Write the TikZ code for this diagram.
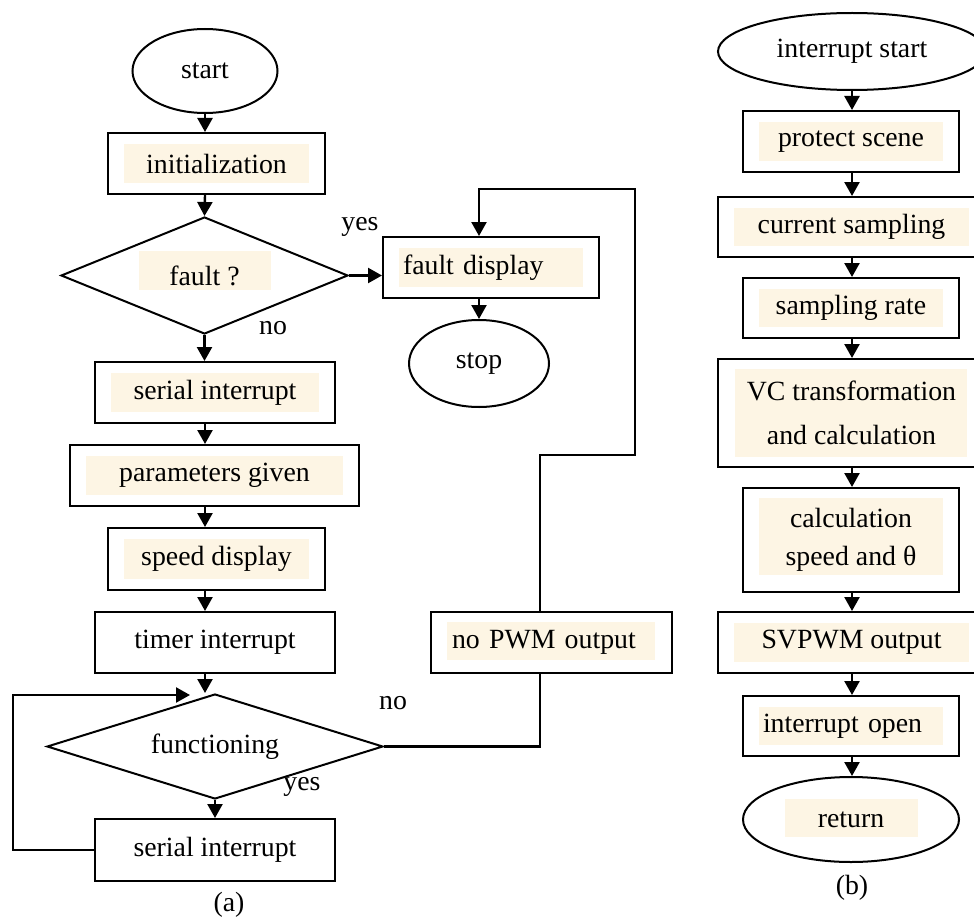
\documentclass[tikz,border=0pt]{standalone}
\usepackage{fontspec}
\setmainfont{Liberation Serif}
\usepackage{tikz}
\usetikzlibrary{positioning,arrows.meta,shapes.geometric,calc}

\definecolor{cream}{RGB}{253,245,228}

\begin{document}
\begin{tikzpicture}[
  x=0.5pt, y=-0.5pt,
  font=\fontsize{13.9}{19}\selectfont, >={Triangle[length=7pt,width=7.5pt]},
  hl/.style 2 args={path picture={\fill[cream] ([shift={(#1)}]path picture bounding box.north west)
                     rectangle ([shift={(#2)}]path picture bounding box.south east);}},
  box/.style={draw, line width=1pt, fill=white, align=center, inner sep=0pt,
              minimum height=30.5pt},
  hbox/.style={box, hl={8pt,-5.5pt}{-8pt,5.5pt}},
  term/.style={draw, line width=1pt, ellipse, inner sep=0pt},
  dec/.style={draw, line width=1pt, diamond, shape aspect=3, inner sep=0pt},
  arr/.style={->, line width=1.2pt},
  lin/.style={line width=1.2pt},
  lbl/.style={inner sep=0pt},
]
\clip (0,0) rectangle (974,920);

% (a) main loop
\node[term, minimum width=72.5pt, minimum height=42pt] (start) at (205,71) {start};
\node[hbox, minimum width=108.5pt] (init) at (216.5,163.5) {initialization};
\node[dec, minimum width=143.5pt, minimum height=58.5pt,
      hl={39pt,-17pt}{-38.5pt,22pt}] (fault) at (204.5,275.5) {fault ?};
\node[hbox, minimum width=108pt, text width=88pt, inner xsep=10pt, align=left] (fdisp) at (491,267.5) {fault display};
\node[term, minimum width=70pt, minimum height=43.5pt] (stop) at (479,363.5) {stop};
\node[hbox, minimum width=120pt] (serial) at (215,392.5) {serial interrupt};
\node[hbox, minimum width=144.5pt] (param) at (214.5,475.5) {parameters given};
\node[hbox, minimum width=108.5pt, minimum height=31pt] (speed) at (216.5,559) {speed display};
\node[box, minimum width=120pt] (timer) at (215,642.5) {timer interrupt};
\node[dec, minimum width=168pt, minimum height=52.5pt] (func) at (215,746.5) {functioning};
\node[box, minimum width=120pt, minimum height=31pt] (serial2) at (215,850) {serial interrupt};
\node[hbox, minimum width=120.5pt, text width=99.5pt, inner xsep=10.5pt, align=left,
      hl={8pt,-5pt}{-8.5pt,6.5pt}] (nopwm) at (551.5,642.5) {no PWM output};

\node[lbl] (yes1) at (360,227) {yes};
\node[lbl] (no1)  at (273,328) {no};
\node[lbl] (no2)  at (393,703) {no};
\node[lbl] (yes2) at (302,787) {yes};
\node[lbl] (capa) at (229,905) {(a)};

\coordinate (j1) at (540,455);
\coordinate (j2) at (635,189);
\coordinate (lp) at (13,695);
\coordinate (lpend) at (190,695);

\draw[arr] (start.south) -- (start |- init.north);
\draw[arr] (init.south -| start) -- (fault.north);
\draw[arr] (fault.east) -- (fault.east -| fdisp.west);
\draw[arr] (fdisp.south -| stop) -- (stop.north);
\draw[arr] (fault.south) -- (fault.south |- serial.north);
\draw[arr] (serial.south -| start) -- (start |- param.north);
\draw[arr] (param.south -| start) -- (start |- speed.north);
\draw[arr] (speed.south -| start) -- (start |- timer.north);
\draw[arr] (timer.south -| start) -- (start |- func.north);
\draw[arr] (func.south) -- (serial2.north);
\draw[arr] (serial2.west) -| (lp) -- (lpend);
\draw[lin] (func.east) -| (j1 |- nopwm.south);
\draw[arr] (nopwm.north -| j1) -- (j1) -| (j2) -| (stop |- fdisp.north);

% (b) interrupt routine
\node[term, minimum width=134pt, minimum height=38.5pt] (istart) at (852,51.5) {interrupt start};
\node[hbox, minimum width=108pt] (protect) at (851,141.5) {protect scene};
\node[hbox, minimum width=133.5pt, minimum height=30pt] (cursamp) at (851.5,227) {current sampling};
\node[hbox, minimum width=108pt, minimum height=30pt] (samprate) at (851,308) {sampling rate};
\node[hbox, minimum width=133.5pt, minimum height=54pt,
      hl={8.5pt,-5pt}{-9pt,5pt}] (vc) at (851.5,413) {VC transformation\\[3pt] and calculation};
\node[hbox, minimum width=108pt, minimum height=52pt,
      hl={8pt,-5pt}{-8pt,8.5pt}] (calc) at (851,540) {calculation\\ speed and θ};
\node[hbox, minimum width=133.5pt] (svpwm) at (851.5,642.5) {SVPWM output};
\node[hbox, minimum width=108pt, minimum height=30pt, text width=88pt, inner xsep=10pt,
      align=left] (iopen) at (851,726) {interrupt open};
\node[term, minimum width=108pt, minimum height=42.5pt,
      hl={21pt,-11pt}{-20.5pt,12.5pt}] (ret) at (851,819.5) {return};
\node[lbl] (capb) at (852,888) {(b)};

\draw[arr] (istart.south) -- (istart.south |- protect.north);
\draw[arr] (protect.south -| istart) -- (istart |- cursamp.north);
\draw[arr] (cursamp.south -| istart) -- (istart |- samprate.north);
\draw[arr] (samprate.south -| istart) -- (istart |- vc.north);
\draw[arr] (vc.south -| istart) -- (istart |- calc.north);
\draw[arr] (calc.south -| istart) -- (istart |- svpwm.north);
\draw[arr] (svpwm.south -| istart) -- (istart |- iopen.north);
\draw[arr] (iopen.south -| istart) -- (istart |- ret.north);
\end{tikzpicture}
\end{document}
